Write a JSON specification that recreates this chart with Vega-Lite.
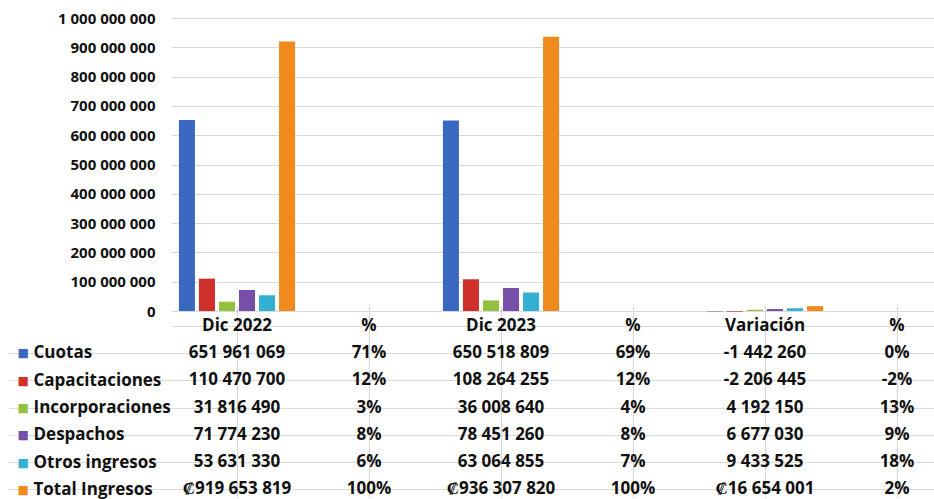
{
  "$schema": "https://vega.github.io/schema/vega-lite/v6.json",
  "padding": {"left": 8, "top": 11, "right": 0, "bottom": 0},
  "background": "white",
  "config": {
    "view": {"stroke": null},
    "locale": {"number": {"decimal": ",", "thousands": " ", "grouping": [3], "currency": ["₡", ""]}}
  },
  "data": {
    "values": [
      {"row": "h", "col": "Dic 2022", "text": "Dic 2022"},
      {"row": "h", "col": "% 2022", "text": "%"},
      {"row": "h", "col": "Dic 2023", "text": "Dic 2023"},
      {"row": "h", "col": "% 2023", "text": "%"},
      {"row": "h", "col": "Variación", "text": "Variación"},
      {"row": "h", "col": "% Var", "text": "%"},

      {"row": "Cuotas", "col": "Dic 2022", "value": 651961069, "text": "651 961 069"},
      {"row": "Cuotas", "col": "% 2022", "text": "71%"},
      {"row": "Cuotas", "col": "Dic 2023", "value": 650518809, "text": "650 518 809"},
      {"row": "Cuotas", "col": "% 2023", "text": "69%"},
      {"row": "Cuotas", "col": "Variación", "value": -1442260, "text": "-1 442 260"},
      {"row": "Cuotas", "col": "% Var", "text": "0%"},

      {"row": "Capacitaciones", "col": "Dic 2022", "value": 110470700, "text": "110 470 700"},
      {"row": "Capacitaciones", "col": "% 2022", "text": "12%"},
      {"row": "Capacitaciones", "col": "Dic 2023", "value": 108264255, "text": "108 264 255"},
      {"row": "Capacitaciones", "col": "% 2023", "text": "12%"},
      {"row": "Capacitaciones", "col": "Variación", "value": -2206445, "text": "-2 206 445"},
      {"row": "Capacitaciones", "col": "% Var", "text": "-2%"},

      {"row": "Incorporaciones", "col": "Dic 2022", "value": 31816490, "text": "31 816 490"},
      {"row": "Incorporaciones", "col": "% 2022", "text": "3%"},
      {"row": "Incorporaciones", "col": "Dic 2023", "value": 36008640, "text": "36 008 640"},
      {"row": "Incorporaciones", "col": "% 2023", "text": "4%"},
      {"row": "Incorporaciones", "col": "Variación", "value": 4192150, "text": "4 192 150"},
      {"row": "Incorporaciones", "col": "% Var", "text": "13%"},

      {"row": "Despachos", "col": "Dic 2022", "value": 71774230, "text": "71 774 230"},
      {"row": "Despachos", "col": "% 2022", "text": "8%"},
      {"row": "Despachos", "col": "Dic 2023", "value": 78451260, "text": "78 451 260"},
      {"row": "Despachos", "col": "% 2023", "text": "8%"},
      {"row": "Despachos", "col": "Variación", "value": 6677030, "text": "6 677 030"},
      {"row": "Despachos", "col": "% Var", "text": "9%"},

      {"row": "Otros ingresos", "col": "Dic 2022", "value": 53631330, "text": "53 631 330"},
      {"row": "Otros ingresos", "col": "% 2022", "text": "6%"},
      {"row": "Otros ingresos", "col": "Dic 2023", "value": 63064855, "text": "63 064 855"},
      {"row": "Otros ingresos", "col": "% 2023", "text": "7%"},
      {"row": "Otros ingresos", "col": "Variación", "value": 9433525, "text": "9 433 525"},
      {"row": "Otros ingresos", "col": "% Var", "text": "18%"},

      {"row": "Total Ingresos", "col": "Dic 2022", "value": 919653819, "text": "₡919 653 819"},
      {"row": "Total Ingresos", "col": "% 2022", "text": "100%"},
      {"row": "Total Ingresos", "col": "Dic 2023", "value": 936307820, "text": "₡936 307 820"},
      {"row": "Total Ingresos", "col": "% 2023", "text": "100%"},
      {"row": "Total Ingresos", "col": "Variación", "value": 16654001, "text": "₡16 654 001"},
      {"row": "Total Ingresos", "col": "% Var", "text": "2%"}
    ]
  },
  "spacing": 0,
  "bounds": "flush",
  "resolve": {"scale": {"x": "independent"}},
  "vconcat": [
    {
      "width": 764,
      "height": 293,
      "transform": [{"filter": "isValid(datum.value)"}],
      "mark": {"type": "bar"},
      "encoding": {
        "x": {
          "field": "col", "type": "nominal",
          "scale": {"domain": ["Dic 2022", "% 2022", "Dic 2023", "% 2023", "Variación", "% Var"], "range": [0, 792], "paddingInner": 0.12, "paddingOuter": 0.06},
          "axis": null
        },
        "xOffset": {
          "field": "row", "type": "nominal",
          "scale": {"domain": ["Cuotas", "Capacitaciones", "Incorporaciones", "Despachos", "Otros ingresos", "Total Ingresos"], "paddingInner": 0.2, "paddingOuter": 0}
        },
        "y": {
          "field": "value", "type": "quantitative",
          "scale": {"domain": [0, 1000000000], "nice": false},
          "axis": {
            "title": null, "values": [0, 100000000, 200000000, 300000000, 400000000, 500000000, 600000000, 700000000, 800000000, 900000000, 1000000000],
            "format": ",d", "grid": true, "gridColor": "#d9d9d9", "domain": false, "ticks": false, "tickSize": 0,
            "labelPadding": 16, "labelFont": "Open Sans", "labelFontWeight": "bold", "labelFontSize": 15, "labelColor": "#111111"
          }
        },
        "color": {
          "field": "row", "type": "nominal",
          "scale": {"domain": ["Cuotas", "Capacitaciones", "Incorporaciones", "Despachos", "Otros ingresos", "Total Ingresos"], "range": ["#3a68c0", "#cf302c", "#93c13e", "#7650a8", "#35b0d5", "#f08a1c"]},
          "legend": null
        }
      }
    },
    {
      "width": 764,
      "height": 187,
      "resolve": {"axis": {"y": "independent"}},
      "layer": [
        {
          "mark": {"type": "text", "font": "Open Sans", "fontWeight": "bold", "fontSize": 17, "color": "#111111"},
          "encoding": {
            "x": {
              "field": "col", "type": "nominal",
              "scale": {"domain": ["Dic 2022", "% 2022", "Dic 2023", "% 2023", "Variación", "% Var"], "range": [0, 792], "paddingInner": 0, "paddingOuter": 0},
              "axis": {"title": null, "grid": true, "gridColor": "#d4d4d4", "gridWidth": 1, "bandPosition": 0.0001, "labels": false, "ticks": false, "domain": false}
            },
            "y": {
              "field": "row", "type": "nominal",
              "scale": {"domain": ["h", "Cuotas", "Capacitaciones", "Incorporaciones", "Despachos", "Otros ingresos", "Total Ingresos"], "range": [1, 192], "paddingInner": 0, "paddingOuter": 0},
              "axis": {
                "orient": "left", "title": null, "domain": false, "grid": true, "gridColor": "#dcdcdc", "gridWidth": 1, "bandPosition": 0.0001,
                "ticks": true, "tickSize": 162, "tickWidth": 1,
                "tickColor": {"condition": {"test": "datum.value == 'h'", "value": "transparent"}, "value": "#dcdcdc"},
                "labelExpr": "datum.value == 'h' ? '' : datum.value",
                "labelAlign": "left", "labelPadding": -24,
                "labelFont": "Open Sans", "labelFontWeight": "bold", "labelFontSize": 17, "labelColor": "#111111"
              }
            },
            "text": {"field": "text", "type": "nominal"}
          }
        },
        {
          "transform": [{"filter": "datum.col == 'Dic 2022'"}],
          "mark": {"type": "text", "opacity": 0},
          "encoding": {
            "y": {
              "field": "row", "type": "nominal",
              "axis": {
                "orient": "left", "title": null, "domain": false, "grid": false, "ticks": false, "tickSize": 0,
                "labelExpr": "datum.value == 'h' ? '' : '■'",
                "labelAlign": "left", "labelPadding": 154,
                "labelFont": "DejaVu Sans", "labelFontSize": 12,
                "labelColor": {
                  "condition": [
                    {"test": "datum.value == 'Cuotas'", "value": "#3a68c0"},
                    {"test": "datum.value == 'Capacitaciones'", "value": "#cf302c"},
                    {"test": "datum.value == 'Incorporaciones'", "value": "#93c13e"},
                    {"test": "datum.value == 'Despachos'", "value": "#7650a8"},
                    {"test": "datum.value == 'Otros ingresos'", "value": "#35b0d5"}
                  ],
                  "value": "#f08a1c"
                }
              }
            },
            "text": {"value": ""}
          }
        }
      ]
    }
  ]
}
